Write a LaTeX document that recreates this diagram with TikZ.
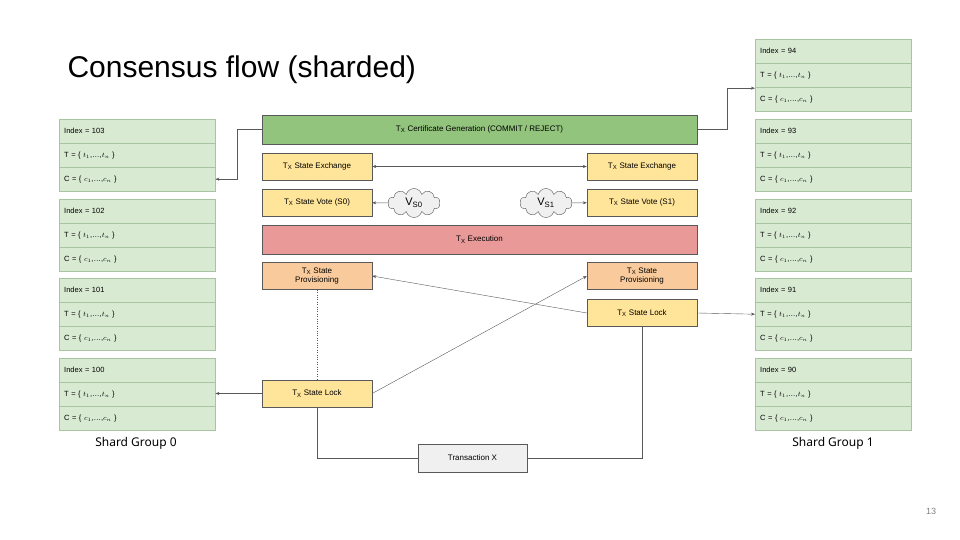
\documentclass[tikz,border=0pt]{standalone}
\usepackage{fontspec}
\setmainfont{Liberation Sans}
\newfontfamily\notofont{Noto Sans}
\usepackage{tikz}
\usetikzlibrary{shapes.symbols, arrows.meta, positioning, calc}
\definecolor{ledgergreen}{HTML}{D9EAD3}
\definecolor{ledgerline}{HTML}{A8C4A0}
\definecolor{certgreen}{HTML}{93C47D}
\definecolor{stateyellow}{HTML}{FFE599}
\definecolor{provorange}{HTML}{F9CB9C}
\definecolor{execred}{HTML}{EA9999}
\definecolor{edgegray}{HTML}{595959}

\newcommand{\Tx}{T\textsubscript{X}}

\begin{document}
\begin{tikzpicture}[x=1pt, y=-1pt,
    step box/.style={rectangle, draw=edgegray, fill=stateyellow, minimum width=110pt, minimum height=27pt, align=center, font=\fontsize{8}{9}\selectfont, inner sep=1pt},
    wide bar/.style={rectangle, draw=edgegray, minimum width=435pt, minimum height=29pt, align=center, font=\fontsize{8}{9}\selectfont},
    row/.style={rectangle, draw=ledgerline, fill=ledgergreen, minimum width=156pt, minimum height=24pt, anchor=north west, font=\fontsize{7.5}{9}\selectfont, text width=146pt, align=left},
    vote/.style={cloud, cloud puffs=10, draw=edgegray, fill=gray!12, minimum width=52pt, minimum height=28pt, inner sep=0pt, font=\fontsize{11}{12}\selectfont},
    arrow/.style={-{Stealth[length=4pt, width=3pt]}, edgegray, thin},
    line/.style={edgegray, thin}
]
\useasboundingbox (0,0) rectangle (960,540);

% Title and page
\node[anchor=west, font=\fontsize{30}{34}\selectfont] (title) at (64,70) {Consensus flow (sharded)};
\node[font=\fontsize{9}{10}\selectfont, text=gray] (page) at (931,511) {13};

% Ledger blocks
\foreach \idx/\x/\y in {103/59/119, 102/59/199, 101/59/278, 100/59/358,
                        94/755/39, 93/755/119, 92/755/199, 91/755/278, 90/755/358} {
  \node[row] (i\idx) at (\x,\y) {Index = \idx};
  \node[row] (t\idx) at (\x,\y+24) {T = \{ $t_1$,\dots,$t_n$ \}};
  \node[row] (c\idx) at (\x,\y+48) {C = \{ $c_1$,\dots,$c_n$ \}};
}
\node[font=\notofont\fontsize{12}{14}\selectfont] (sg0) at (136,443) {Shard Group 0};
\node[font=\notofont\fontsize{12}{14}\selectfont] (sg1) at (833,443) {Shard Group 1};

% Consensus steps
\node[wide bar, fill=certgreen] (cert) at (479.5,129.5) {\Tx{} Certificate Generation (COMMIT / REJECT)};
\node[step box] (exch0) at (317,166.5) {\Tx{} State Exchange};
\node[step box] (exch1) at (642,166.5) {\Tx{} State Exchange};
\node[step box] (vote0) at (317,202.5) {\Tx{} State Vote (S0)};
\node[step box] (vote1) at (642,202.5) {\Tx{} State Vote (S1)};
\node[vote] (vs0) at (414,203) {V\textsubscript{S0}};
\node[vote] (vs1) at (546,203) {V\textsubscript{S1}};
\node[wide bar, fill=execred] (exec) at (479.5,239.5) {\Tx{} Execution};
\node[step box, fill=provorange] (prov0) at (317,276) {\Tx{} State\\Provisioning};
\node[step box, fill=provorange] (prov1) at (642,276) {\Tx{} State\\Provisioning};
\node[step box] (lock1) at (642,313) {\Tx{} State Lock};
\node[step box] (lock0) at (317,393.5) {\Tx{} State Lock};
\node[rectangle, draw=edgegray, fill=gray!12, minimum width=109pt, minimum height=28pt, font=\fontsize{8}{9}\selectfont] (txx) at (472.5,458) {Transaction X};

% Connections
\draw[arrow] (cert.west) -- ++(-25,0) |- (c103.east);
\draw[arrow] (cert.east) -- ++(30,0) |- ($(c94.west)+(0,-11)$) coordinate (c94in);
\draw[arrow, {Stealth[length=4pt, width=3pt]}-{Stealth[length=4pt, width=3pt]}] (exch0) -- (exch1);
\draw[arrow] (vs0) -- (vote0);
\draw[arrow] (vs1) -- (vote1);
\draw[arrow] (lock1.east) -- (t91.west);
\draw[arrow] (lock1.west) -- (prov0.east);
\draw[arrow] (lock0.east) -- (prov1.west);
\draw[arrow] (lock0.west) -- (lock0.west -| t100.east);
\draw[line, dotted] (prov0) -- (lock0);
\draw[line] (txx.west) -| (lock0.south);
\draw[line] (txx.east) -| (lock1.south);
\end{tikzpicture}
\end{document}
